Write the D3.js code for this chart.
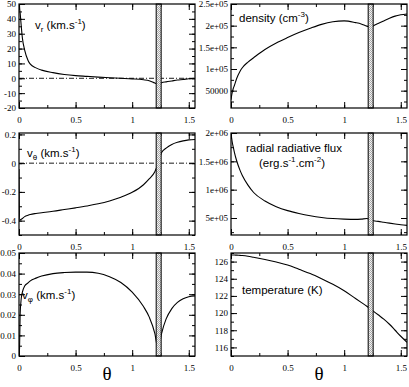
<!DOCTYPE html>
<html>
<head>
<meta charset="utf-8">
<script src="https://cdn.jsdelivr.net/npm/d3@7"></script>
<style>
  body { margin: 0; background: #fff; }
  svg { display: block; }
  .tick text { font-family: "Liberation Serif", "DejaVu Serif", serif; font-size: 9px; fill: #000; }
  .tick line { stroke: #000; stroke-width: 1; }
  .lbl { font-family: "Liberation Sans", Arial, sans-serif; font-size: 11.5px; fill: #000; }
</style>
</head>
<body>
<div id="chart"></div>
<script>
// sample points along theta (radians)
const theta = [0, 0.005, 0.01, 0.02, 0.03, 0.05, 0.08, 0.1, 0.15, 0.2, 0.3, 0.4, 0.5, 0.6, 0.7, 0.8, 0.9, 1.0, 1.1, 1.15, 1.2, 1.23, 1.26, 1.3, 1.35, 1.4, 1.45, 1.5, 1.555];

const vr = [60, 48, 44, 35, 27, 19, 12, 9.5, 7, 5.5, 3.8, 2.6, 1.8, 1.3, 0.8, 0.4, 0, -0.4, -1.0, -1.6, -3.2, -4, -3.0, -2.4, -1.8, -1.2, -0.8, -0.3, 0];
const vtheta = [-0.04, -0.40, -0.395, -0.39, -0.385, -0.372, -0.362, -0.357, -0.35, -0.345, -0.335, -0.323, -0.311, -0.298, -0.283, -0.263, -0.237, -0.203, -0.15, -0.11, -0.06, 0, 0.075, 0.105, 0.13, 0.145, 0.155, 0.162, 0.165];
const vphi = [0, 0.004, 0.02, 0.028, 0.031, 0.034, 0.0355, 0.0365, 0.0378, 0.0388, 0.04, 0.0405, 0.0407, 0.0407, 0.0402, 0.0385, 0.0357, 0.031, 0.024, 0.019, 0.011, 0.003, 0.011, 0.018, 0.023, 0.026, 0.0278, 0.0288, 0.0292];
const density = [29000, 38000, 45000, 55000, 62000, 78000, 95000, 103000, 116000, 126000, 145000, 160000, 172500, 184000, 194000, 203000, 209000, 211000, 207000, 204000, 199000, 197000, 200000, 205000, 211000, 217000, 222000, 225000, 227000];
const flux = [2.0e6, 1.92e6, 1.85e6, 1.75e6, 1.66e6, 1.51e6, 1.34e6, 1.25e6, 1.08e6, 9.5e5, 8.0e5, 7.0e5, 6.3e5, 5.8e5, 5.4e5, 5.1e5, 4.9e5, 4.8e5, 4.75e5, 4.8e5, 4.9e5, 4.7e5, 4.5e5, 4.4e5, 4.25e5, 4.1e5, 3.95e5, 3.8e5, 3.7e5];
const temperature = [126.77, 126.77, 126.77, 126.77, 126.76, 126.75, 126.72, 126.7, 126.62, 126.5, 126.25, 125.95, 125.6, 125.1, 124.6, 124.0, 123.35, 122.6, 121.7, 121.25, 120.8, 120.5, 120.2, 119.8, 119.3, 118.7, 118.0, 117.3, 116.6];

// shaded band (theta range)
const band = [1.212, 1.256];

// tick labels
const xTicks = [0, 0.5, 1, 1.5];
const xLabels = ["0", "0.5", "1", "1.5"];
const vrTicks = [-20, -10, 0, 10, 20, 30, 40, 50];
const vrLabels = ["-20", "-10", "0", "10", "20", "30", "40", "50"];
const vthetaTicks = [-0.4, -0.2, 0, 0.2];
const vthetaLabels = ["-0.4", "-0.2", "0", "0.2"];
const vphiTicks = [0, 0.01, 0.02, 0.03, 0.04, 0.05];
const vphiLabels = ["0", "0.01", "0.02", "0.03", "0.04", "0.05"];
const densityTicks = [50000, 100000, 150000, 200000, 250000];
const densityLabels = ["50000", "1e+05", "1.5e+05", "2e+05", "2.5e+05"];
const fluxTicks = [500000, 1000000, 1500000, 2000000];
const fluxLabels = ["5e+05", "1e+06", "1.5e+06", "2e+06"];
const tempTicks = [116, 118, 120, 122, 124, 126];
const tempLabels = ["116", "118", "120", "122", "124", "126"];

const width = 409, height = 387;
const svg = d3.select("#chart").append("svg").attr("width", width).attr("height", height);

// stipple pattern for the band
const defs = svg.append("defs");
const pat = defs.append("pattern").attr("id", "stip").attr("patternUnits", "userSpaceOnUse")
  .attr("width", 2).attr("height", 2);
pat.append("rect").attr("width", 2).attr("height", 2).attr("fill", "#f2f2f2");
pat.append("rect").attr("width", 1).attr("height", 1).attr("fill", "#a8a8a8");
pat.append("rect").attr("x", 1).attr("y", 1).attr("width", 1).attr("height", 1).attr("fill", "#a8a8a8");

const cols = [[19, 195], [231, 407]];
const rows = [[4, 108], [133, 235], [253, 356]];

const panels = [
  { c: 0, r: 0, y: vr, dom: [-20, 50], ticks: vrTicks, labels: vrLabels, minor: 5, zero: true,
    title: [["v", 0], ["r", -1], [" (km.s", 0], ["-1", 1], [")", 0]], tx: 35, ty: 29 },
  { c: 0, r: 1, y: vtheta, dom: [-0.5, 0.21], ticks: vthetaTicks, labels: vthetaLabels, minor: 0.1, zero: true,
    title: [["v", 0], ["θ", -1], [" (km.s", 0], ["-1", 1], [")", 0]], tx: 27, ty: 157 },
  { c: 0, r: 2, y: vphi, dom: [0, 0.05], ticks: vphiTicks, labels: vphiLabels, minor: 0.005,
    title: [["v", 0], ["φ", -1], [" (km.s", 0], ["-1", 1], [")", 0]], tx: 22, ty: 299 },
  { c: 1, r: 0, y: density, dom: [10000, 250000], ticks: densityTicks, labels: densityLabels, minor: 25000,
    title: [["density (cm", 0], ["-3", 1], [")", 0]], tx: 239, ty: 22 },
  { c: 1, r: 1, y: flux, dom: [200000, 2000000], ticks: fluxTicks, labels: fluxLabels, minor: 250000,
    title: [["radial radiative flux", 0]], tx: 246, ty: 152,
    title2: [["(erg.s", 0], ["-1", 1], [".cm", 0], ["-2", 1], [")", 0]], tx2: 259, ty2: 167 },
  { c: 1, r: 2, y: temperature, dom: [115, 127], ticks: tempTicks, labels: tempLabels, minor: 1,
    title: [["temperature (K)", 0]], tx: 242, ty: 294 }
];

function addTitle(parts, x, y) {
  const t = svg.append("text").attr("class", "lbl").attr("x", x).attr("y", y);
  parts.forEach(function(p) {
    const s = t.append("tspan").text(p[0]);
    if (p[1] === -1) s.attr("font-size", "8px").attr("baseline-shift", "-3px");
    if (p[1] === 1) s.attr("font-size", "8px").attr("baseline-shift", "5px");
  });
}

function minorTicks(dom, step) {
  const out = [];
  const start = Math.ceil(dom[0] / step - 1e-9);
  for (let k = start; k * step <= dom[1] + 1e-12; k++) out.push(+(k * step).toFixed(10));
  return out;
}

panels.forEach(function(p, i) {
  const [x0, x1] = cols[p.c];
  const [y0, y1] = rows[p.r];
  const x = d3.scaleLinear().domain([0, 1.555]).range([x0, x1]);
  const y = d3.scaleLinear().domain(p.dom).range([y1, y0]);

  const clipId = "clip" + i;
  defs.append("clipPath").attr("id", clipId).append("rect")
    .attr("x", x0).attr("y", y0).attr("width", x1 - x0).attr("height", y1 - y0);

  // axes: major and minor ticks, inward, on all four sides
  const xMinor = minorTicks([0, 1.555], 0.25);
  const yMinor = minorTicks(p.dom, p.minor);

  svg.append("g").attr("transform", `translate(0,${y1})`)
    .call(d3.axisBottom(x).tickValues(xTicks).tickSize(-6).tickPadding(9)
      .tickFormat((d, k) => xLabels[k]))
    .call(g => g.select(".domain").remove());
  svg.append("g").attr("transform", `translate(0,${y1})`)
    .call(d3.axisBottom(x).tickValues(xMinor).tickSize(-3).tickFormat(""))
    .call(g => g.select(".domain").remove());
  svg.append("g").attr("transform", `translate(0,${y0})`)
    .call(d3.axisTop(x).tickValues(xTicks).tickSize(-6).tickFormat(""))
    .call(g => g.select(".domain").remove());
  svg.append("g").attr("transform", `translate(0,${y0})`)
    .call(d3.axisTop(x).tickValues(xMinor).tickSize(-3).tickFormat(""))
    .call(g => g.select(".domain").remove());

  svg.append("g").attr("transform", `translate(${x0},0)`)
    .call(d3.axisLeft(y).tickValues(p.ticks).tickSize(-6).tickPadding(3)
      .tickFormat((d, k) => p.labels[k]))
    .call(g => g.select(".domain").remove());
  svg.append("g").attr("transform", `translate(${x0},0)`)
    .call(d3.axisLeft(y).tickValues(yMinor).tickSize(-3).tickFormat(""))
    .call(g => g.select(".domain").remove());
  svg.append("g").attr("transform", `translate(${x1},0)`)
    .call(d3.axisRight(y).tickValues(p.ticks).tickSize(-6).tickFormat(""))
    .call(g => g.select(".domain").remove());
  svg.append("g").attr("transform", `translate(${x1},0)`)
    .call(d3.axisRight(y).tickValues(yMinor).tickSize(-3).tickFormat(""))
    .call(g => g.select(".domain").remove());

  // zero reference line, dash-dot
  if (p.zero) {
    svg.append("line").attr("x1", x0).attr("x2", x1).attr("y1", y(0)).attr("y2", y(0))
      .attr("stroke", "#000").attr("stroke-width", 0.9).attr("stroke-dasharray", "5,2,1,2");
  }

  // curve
  const line = d3.line().x((d, k) => x(theta[k])).y(d => y(d)).curve(d3.curveMonotoneX);
  svg.append("path").datum(p.y).attr("clip-path", `url(#${clipId})`)
    .attr("d", line).attr("fill", "none").attr("stroke", "#000").attr("stroke-width", 1.1);

  // shaded band
  svg.append("rect").attr("x", x(band[0])).attr("y", y0)
    .attr("width", x(band[1]) - x(band[0])).attr("height", y1 - y0)
    .attr("fill", "url(#stip)").attr("stroke", "#000").attr("stroke-width", 1);

  // frame
  svg.append("rect").attr("x", x0).attr("y", y0).attr("width", x1 - x0).attr("height", y1 - y0)
    .attr("fill", "none").attr("stroke", "#000").attr("stroke-width", 1.2);

  addTitle(p.title, p.tx, p.ty);
  if (p.title2) addTitle(p.title2, p.tx2, p.ty2);
});

// theta axis titles
[0, 1].forEach(function(c) {
  svg.append("text").attr("x", (cols[c][0] + cols[c][1]) / 2).attr("y", 380)
    .attr("text-anchor", "middle")
    .style("font-family", '"Liberation Serif", "DejaVu Serif", serif').style("font-size", "19px")
    .text("θ");
});
</script>
</body>
</html>
